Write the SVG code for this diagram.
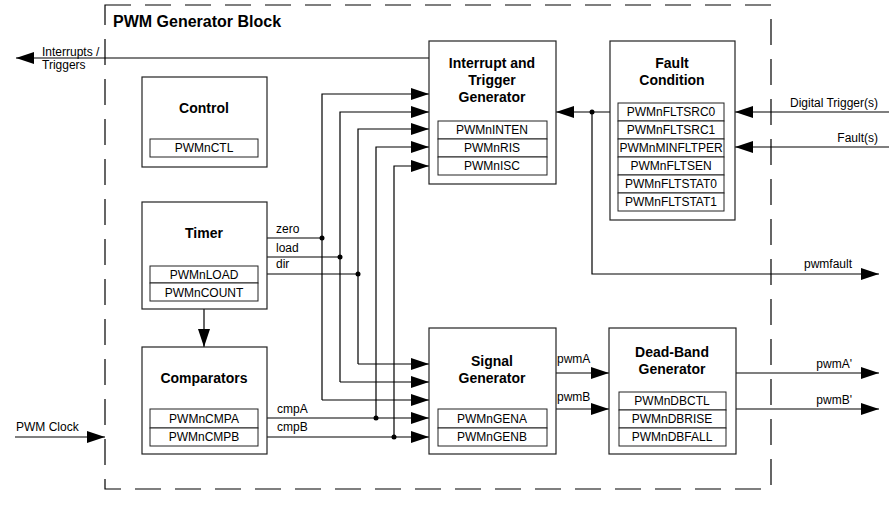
<svg xmlns="http://www.w3.org/2000/svg" width="889" height="512" viewBox="0 0 889 512">
<style>
text{font-family:"Liberation Sans",Arial,sans-serif;fill:#000}
.t{font-size:14px;font-weight:bold;text-anchor:middle}
.r{font-size:12px;text-anchor:middle}
.l{font-size:12px}
.e{font-size:12px;text-anchor:end}
.box{fill:#fff;stroke:#222;stroke-width:1.2}
.in{fill:#fff;stroke:#222;stroke-width:1}
.w{fill:none;stroke:#000;stroke-width:1.2}
.a{fill:none;stroke:#000;stroke-width:1.2;marker-end:url(#ah)}
.dot{fill:#000}
</style>
<defs>
<marker id="ah" markerUnits="userSpaceOnUse" markerWidth="18" markerHeight="12" refX="18" refY="6" orient="auto">
<path d="M0,0 L18,6 L0,12 z" fill="#000"/>
</marker>
</defs>
<rect x="105" y="5" width="666" height="484" fill="none" stroke="#000" stroke-width="1.2" stroke-dasharray="26 14"/>
<text x="113" y="27" style="font-size:16px;font-weight:bold">PWM Generator Block</text>

<g id="connectors">
<path class="a" d="M430,58 H16"/>
<text class="l" x="42" y="56">Interrupts /</text>
<text class="l" x="42" y="69">Triggers</text>
<path class="a" d="M15,437 H105"/>
<text class="l" x="16" y="431">PWM Clock</text>
<path class="a" d="M204,309 V347"/>
<path class="w" d="M267,238 H322"/>
<path class="w" d="M267,257 H340"/>
<path class="w" d="M267,274 H358"/>
<text class="l" x="276" y="233">zero</text>
<text class="l" x="276" y="252">load</text>
<text class="l" x="276" y="268">dir</text>
<path class="a" d="M322,400 V94 H429"/>
<path class="a" d="M340,382 V112 H429"/>
<path class="a" d="M358,364 V129 H429"/>
<path class="a" d="M376,418 V147 H429"/>
<path class="a" d="M394,437 V166 H429"/>
<path class="a" d="M322,400 H429"/>
<path class="a" d="M340,382 H429"/>
<path class="a" d="M358,364 H429"/>
<path class="a" d="M267,418 H429"/>
<path class="a" d="M267,437 H429"/>
<text class="l" x="277" y="413">cmpA</text>
<text class="l" x="277" y="431">cmpB</text>
<circle class="dot" cx="322" cy="238" r="2.5"/>
<circle class="dot" cx="340" cy="257" r="2.5"/>
<circle class="dot" cx="358" cy="274" r="2.5"/>
<circle class="dot" cx="376" cy="418" r="2.5"/>
<circle class="dot" cx="394" cy="437" r="2.5"/>
<path class="a" d="M610,112 H556"/>
<path class="a" d="M592,112 V274 H879"/>
<circle class="dot" cx="592" cy="112" r="2.5"/>
<text class="e" x="852" y="268">pwmfault</text>
<path class="a" d="M889,112 H735"/>
<text class="e" x="878" y="107">Digital Trigger(s)</text>
<path class="a" d="M889,147 H735"/>
<text class="e" x="878" y="142">Fault(s)</text>
<path class="a" d="M556,373 H609"/>
<path class="a" d="M556,409 H609"/>
<text class="l" x="557" y="363">pwmA</text>
<text class="l" x="557" y="401">pwmB</text>
<path class="a" d="M736,373 H879"/>
<path class="a" d="M736,409 H879"/>
<text class="e" x="852" y="368">pwmA'</text>
<text class="e" x="852" y="404">pwmB'</text>
</g>

<g id="control">
<rect class="box" x="142" y="77" width="125" height="90"/>
<text class="t" x="204" y="113">Control</text>
<rect class="in" x="150" y="139" width="108" height="18"/>
<text class="r" x="204" y="152">PWMnCTL</text>
</g>

<g id="timer">
<rect class="box" x="142" y="202" width="125" height="107"/>
<text class="t" x="204" y="238">Timer</text>
<rect class="in" x="150" y="266" width="108" height="17"/>
<rect class="in" x="150" y="283" width="108" height="18"/>
<text class="r" x="204" y="279">PWMnLOAD</text>
<text class="r" x="204" y="297">PWMnCOUNT</text>
</g>

<g id="comparators">
<rect class="box" x="142" y="347" width="125" height="107"/>
<text class="t" x="204" y="383">Comparators</text>
<rect class="in" x="150" y="409" width="108" height="19"/>
<rect class="in" x="150" y="428" width="108" height="18"/>
<text class="r" x="204" y="423">PWMnCMPA</text>
<text class="r" x="204" y="441">PWMnCMPB</text>
</g>

<g id="interrupt">
<rect class="box" x="429" y="41" width="127" height="143"/>
<text class="t" x="492" y="68">Interrupt and</text>
<text class="t" x="492" y="85">Trigger</text>
<text class="t" x="492" y="102">Generator</text>
<rect class="in" x="438" y="121" width="109" height="18"/>
<rect class="in" x="438" y="139" width="109" height="18"/>
<rect class="in" x="438" y="157" width="109" height="18"/>
<text class="r" x="492" y="134">PWMnINTEN</text>
<text class="r" x="492" y="152">PWMnRIS</text>
<text class="r" x="492" y="170">PWMnISC</text>
</g>

<g id="fault">
<rect class="box" x="610" y="41" width="125" height="179"/>
<text class="t" x="672" y="68">Fault</text>
<text class="t" x="672" y="85">Condition</text>
<rect class="in" x="618" y="103" width="106" height="18"/>
<rect class="in" x="618" y="121" width="106" height="18"/>
<rect class="in" x="618" y="139" width="106" height="18"/>
<rect class="in" x="618" y="157" width="106" height="18"/>
<rect class="in" x="618" y="175" width="106" height="18"/>
<rect class="in" x="618" y="193" width="106" height="18"/>
<text class="r" x="671" y="116">PWMnFLTSRC0</text>
<text class="r" x="671" y="134">PWMnFLTSRC1</text>
<text class="r" x="671" y="152">PWMnMINFLTPER</text>
<text class="r" x="671" y="170">PWMnFLTSEN</text>
<text class="r" x="671" y="188">PWMnFLTSTAT0</text>
<text class="r" x="671" y="206">PWMnFLTSTAT1</text>
</g>

<g id="signal">
<rect class="box" x="429" y="328" width="127" height="126"/>
<text class="t" x="492" y="366">Signal</text>
<text class="t" x="492" y="383">Generator</text>
<rect class="in" x="438" y="409" width="109" height="19"/>
<rect class="in" x="438" y="428" width="109" height="18"/>
<text class="r" x="492" y="423">PWMnGENA</text>
<text class="r" x="492" y="441">PWMnGENB</text>
</g>

<g id="deadband">
<rect class="box" x="609" y="328" width="127" height="126"/>
<text class="t" x="672" y="357">Dead-Band</text>
<text class="t" x="672" y="374">Generator</text>
<rect class="in" x="619" y="392" width="107" height="18"/>
<rect class="in" x="619" y="410" width="107" height="18"/>
<rect class="in" x="619" y="428" width="107" height="18"/>
<text class="r" x="672" y="405">PWMnDBCTL</text>
<text class="r" x="672" y="423">PWMnDBRISE</text>
<text class="r" x="672" y="441">PWMnDBFALL</text>
</g>
</svg>
